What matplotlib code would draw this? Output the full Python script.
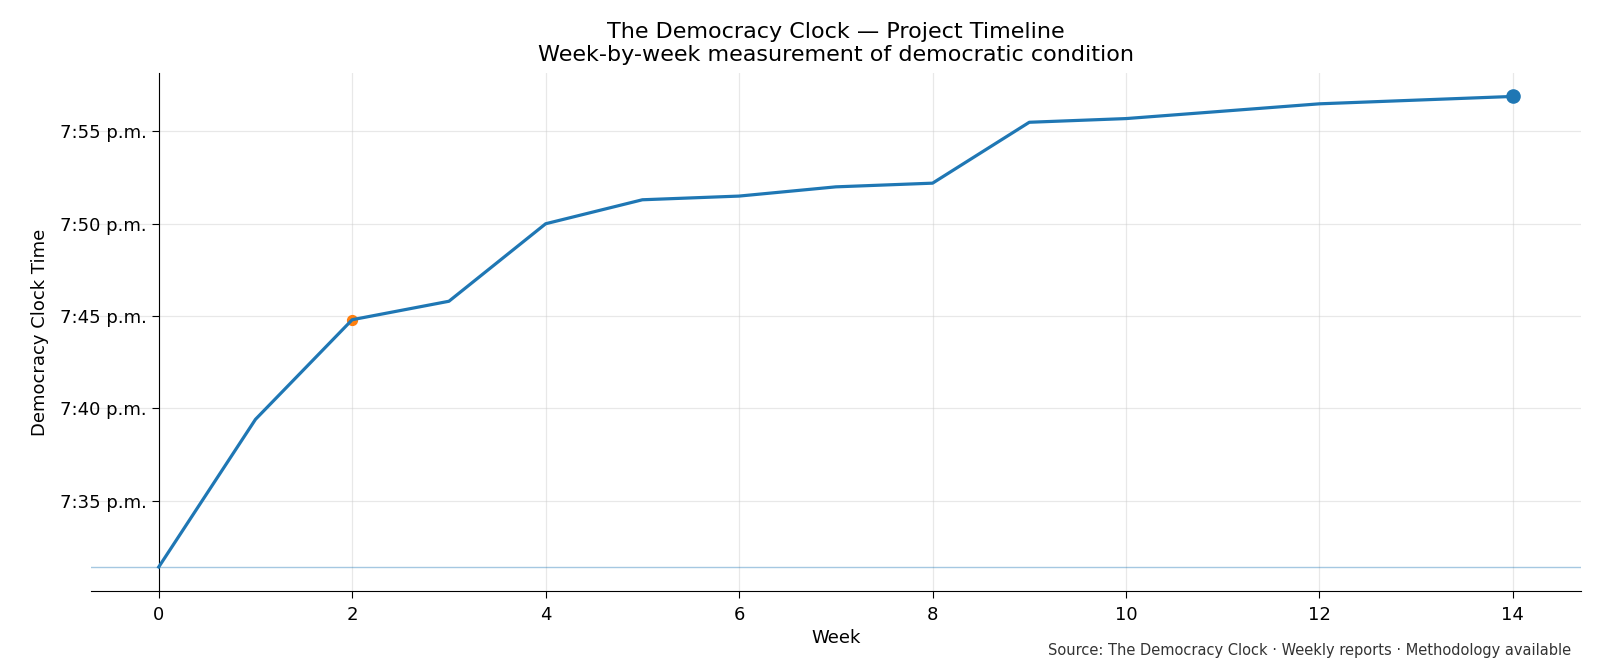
import matplotlib
matplotlib.use('Agg')
import matplotlib.pyplot as plt
from matplotlib.ticker import FuncFormatter, MultipleLocator

# weeks and clock reading (minutes past 7 p.m.)
weeks = [0, 1, 2, 3, 4, 5, 6, 7, 8, 9, 10, 12, 14]
minutes = [31.4, 39.4, 44.8, 45.8, 50.0, 51.3, 51.5, 52.0, 52.2, 55.5, 55.7, 56.5, 56.9]
highlight_week = 2

fig = plt.figure(figsize=(16, 6.67), dpi=100)
ax = fig.add_axes([0.0569, 0.114, 0.931, 0.776])

ax.plot(weeks, minutes, color='#1f77b4', linewidth=2.3, zorder=3)
# baseline at the starting value
ax.axhline(minutes[0], color='#1f77b4', alpha=0.4, linewidth=1, zorder=1)
# highlighted week
hi = weeks.index(highlight_week)
ax.scatter([weeks[hi]], [minutes[hi]], color='#ff7f0e', s=50, zorder=2)
# latest reading
ax.scatter([weeks[-1]], [minutes[-1]], color='#1f77b4', s=90, zorder=4)

ax.set_ylim(min(minutes) - 1.3, max(minutes) + 1.25)
ax.yaxis.set_major_locator(MultipleLocator(5))
ax.yaxis.set_major_formatter(FuncFormatter(lambda v, p: '7:%02d p.m.' % int(round(v))))
ax.xaxis.set_major_locator(MultipleLocator(2))

ax.spines['top'].set_visible(False)
ax.spines['right'].set_visible(False)
ax.spines['left'].set_position(('data', 0))
ax.grid(True, color='#cccccc', alpha=0.45, linewidth=0.9)
ax.set_axisbelow(True)
ax.tick_params(labelsize=13, length=5)
ax.tick_params(axis='x', pad=5.5)

ax.set_xlabel('Week', fontsize=13)
ax.set_ylabel('Democracy Clock Time', fontsize=13, labelpad=8)
ax.set_title('The Democracy Clock \u2014 Project Timeline\nWeek-by-week measurement of democratic condition',
             fontsize=16, pad=9)
fig.text(0.982, 0.024, 'Source: The Democracy Clock \u00b7 Weekly reports \u00b7 Methodology available',
         ha='right', va='center', fontsize=10.5, color='#333333')

fig.savefig('out.png', dpi=100)
